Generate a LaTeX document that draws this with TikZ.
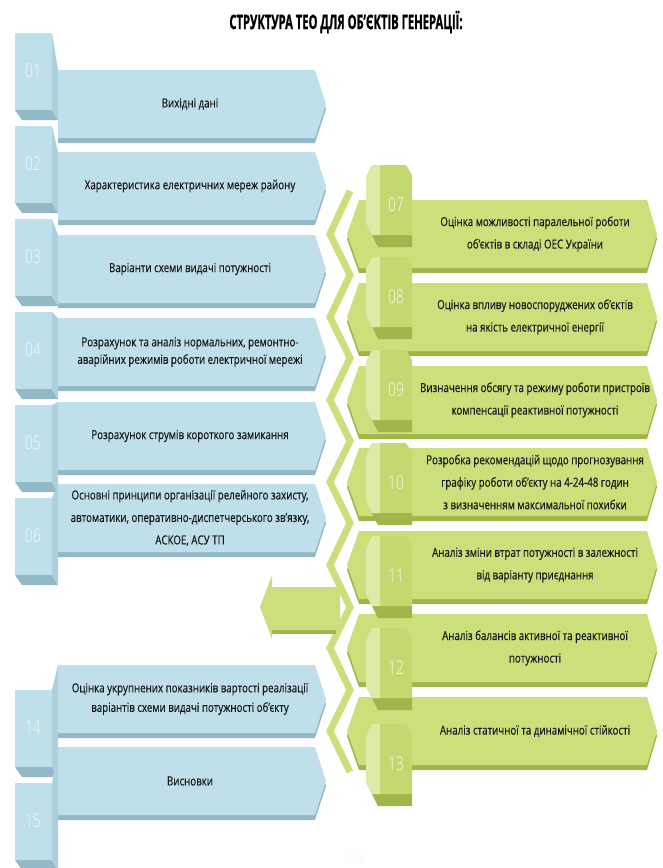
\documentclass[tikz,border=0pt]{standalone}
\usepackage{fontspec}
\setmainfont{Open Sans}[FakeStretch=0.78,FakeBold=0.35]
\newfontfamily\titlefont{Open Sans}[FakeStretch=0.56,FakeBold=0.8]
\newfontfamily\numfont{Open Sans Light}[FakeStretch=0.72]

\definecolor{bluebody}{HTML}{BFDFEA}
\definecolor{bluebevel}{HTML}{ACD0DD}
\definecolor{blueshade}{HTML}{93B8C6}
\definecolor{bluenum}{HTML}{F2F9FB}
\definecolor{greenbody}{HTML}{CBDF7B}
\definecolor{greentab}{HTML}{C3D970}
\definecolor{greenlight}{HTML}{DDEBA8}
\definecolor{greenshade}{HTML}{9EB64A}
\definecolor{greennum}{HTML}{F7FAEA}

\tikzset{
  itemtext/.style={align=center, text=black!90, font=\fontsize{12.5}{22.5}\selectfont},
  numtext/.style={font=\numfont\fontsize{19}{19}\selectfont},
}

% blue step on the left: tab top, body top, number, name, text
\newcommand{\leftitem}[5]{%
  \fill[blueshade] (15,#1+77) -- (52,#1+77) -- (58,#1+87) -- (22,#1+87) -- cycle;
  \fill[bluebevel] (52,#1) -- (58,#2) -- (58,#1+87) -- (52,#1+77) -- cycle;
  \fill[bluebody] (15,#1) rectangle (52,#1+77);
  \node[numtext, text=bluenum] (n#4) at (33,#1+38) {#3};
  \fill[blueshade] (58,#2+5) -- (315,#2+5) -- (326,#2+39) -- (315,#2+73) -- (58,#2+73) -- cycle;
  \fill[bluebody] (58,#2) -- (315,#2) -- (326,#2+34) -- (315,#2+68) -- (58,#2+68) -- cycle;
  \node[itemtext] (#4) at (190,#2+34) {#5};
}

% green arrow on the right: body top, name, text
\newcommand{\rightbody}[3]{%
  \fill[greenshade] (347,#1+39) -- (359,#1+5) -- (647,#1+5) -- (657,#1+39) -- (647,#1+73) -- (359,#1+73) -- cycle;
  \fill[greenbody] (347,#1+34) -- (359,#1) -- (647,#1) -- (657,#1+34) -- (647,#1+68) -- (359,#1+68) -- cycle;
  \node[itemtext] (#2) at (535,#1+34) {#3};
}

% green number tab: tab top, number
\newcommand{\righttab}[2]{%
  \fill[greenshade] (372,#1+70) -- (412,#1+70) -- (412,#1+82) -- (378,#1+82) -- cycle;
  \fill[greentab] (366,#1+12) -- (372,#1) -- (406,#1) -- (412,#1+10) -- (412,#1+70) -- (372,#1+70) -- (366,#1+58) -- cycle;
  \fill[greenlight] (366,#1+12) -- (372,#1) -- (380,#1) -- (380,#1+70) -- (372,#1+70) -- (366,#1+58) -- cycle;
  \node[numtext, text=greennum] (n#2) at (396,#1+40) {#2};
}

\begin{document}
\begin{tikzpicture}[x=1pt, y=-1pt]
  \useasboundingbox (0,0) rectangle (662,868);

  \node[font=\titlefont\bfseries\fontsize{20}{20}\selectfont] (title) at (346,22)
    {СТРУКТУРА ТЕО ДЛЯ ОБ’ЄКТІВ ГЕНЕРАЦІЇ:};

  % left column
  \leftitem{33}{70}{01}{input}{Вихідні дані}
  \leftitem{126}{152}{02}{grid}{Характеристика електричних мереж району}
  \leftitem{219}{235}{03}{scheme}{Варіанти схеми видачі потужності}
  \leftitem{312}{318}{04}{modes}{Розрахунок та аналіз нормальних, ремонтно-\\[-5pt]аварійних режимів роботи електричної мережі}
  \leftitem{405}{402}{05}{shortc}{Розрахунок струмів короткого замикання}
  \leftitem{498}{484}{06}{relay}{Основні принципи організації релейного захисту,\\автоматики, оперативно-диспетчерського зв’язку,\\АСКОЕ, АСУ ТП}
  \leftitem{690}{665}{14}{cost}{Оцінка укрупнених показників вартості реалізації\\[-3pt]варіантів схеми видачі потужності об’єкту}
  \leftitem{783}{747}{15}{concl}{Висновки}

  % zigzag band and arrow to the left
  \draw[greenbody, line width=7pt, line join=miter]
    (350,191) -- (330,234) -- (350,275) -- (330,317) -- (350,358) -- (330,400)
    -- (350,441) -- (330,482) -- (350,523) -- (330,565) -- (350,607)
    -- (330,648) -- (350,690) -- (330,731) -- (350,772);
  \fill[greenshade] (272,591) -- (336,591) -- (336,634) -- (272,634) -- cycle;
  \fill[greenbody] (260,607) -- (272,575) -- (272,587) -- (340,587) -- (340,630)
    -- (272,630) -- (272,639) -- cycle;

  % right column
  \rightbody{200}{parallel}{Оцінка можливості паралельної роботи\\об’єктів в складі ОЕС України}
  \rightbody{283}{quality}{Оцінка впливу новоспоруджених об’єктів\\на якість електричної енергії}
  \rightbody{366}{compens}{Визначення обсягу та режиму роботи пристроїв\\компенсації реактивної потужності}
  \rightbody{448}{forecast}{Розробка рекомендацій щодо прогнозування\\графіку роботи об’єкту на 4-24-48 годин\\з визначенням максимальної  похибки}
  \rightbody{531}{losses}{Аналіз зміни втрат потужності в залежності\\від варіанту приєднання}
  \rightbody{614}{balance}{Аналіз балансів активної та реактивної\\потужності}
  \rightbody{697}{stability}{Аналіз статичної та  динамічної стійкості}

  \righttab{165}{07}
  \righttab{257}{08}
  \righttab{350}{09}
  \righttab{443}{10}
  \righttab{536}{11}
  \righttab{628}{12}
  \righttab{724}{13}

  \node[numtext, text=black!3] (ghost) at (355,857) {08};
\end{tikzpicture}
\end{document}
